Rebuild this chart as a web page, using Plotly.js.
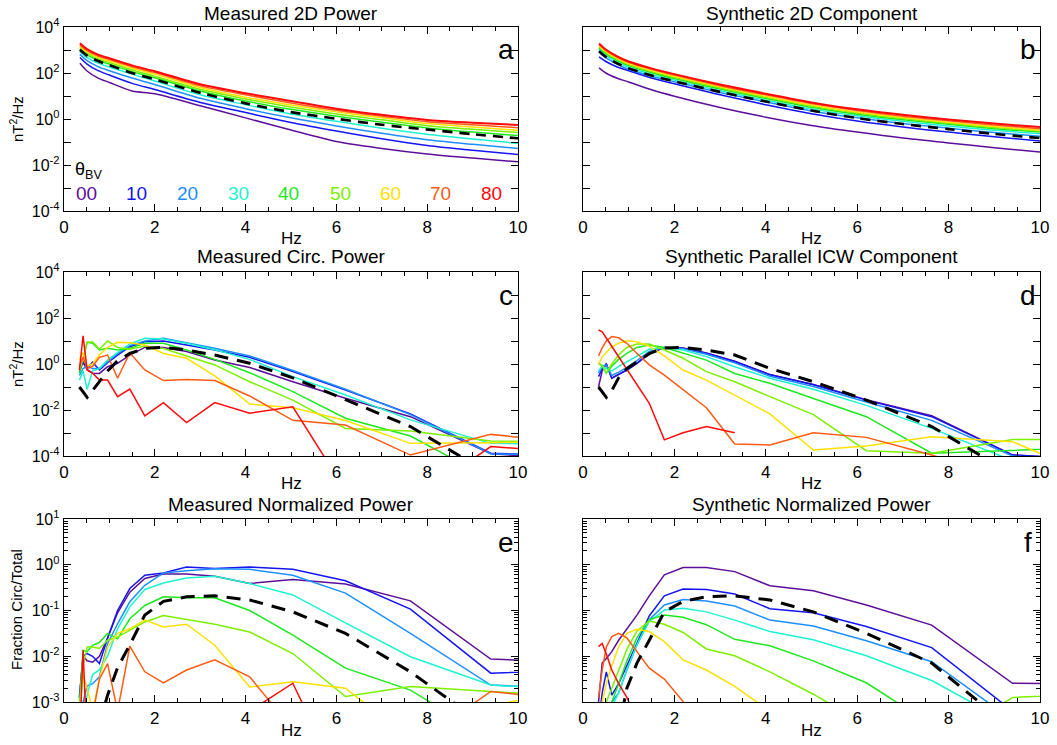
<!DOCTYPE html>
<html><head><meta charset="utf-8">
<script src="https://cdn.plot.ly/plotly-3.0.1.min.js"></script>
<style>html,body{margin:0;padding:0;background:#fff}#chart{width:1057px;height:745px}</style>
</head><body><div id="chart"></div>
<script>
// ---------- data (power values given as log10 exponents) ----------
const thetaLabels = ['00','10','20','30','40','50','60','70','80'];
const thetaColors = ['#5c0f99','#1515f0','#1e8fff','#1ef2d0','#1ee81e','#7df000','#ffe100','#ff5a14','#ff0a0a'];

const freqSmooth = [0.35,0.5,0.75,1,1.5,2,3,4,5,6,7,8,9,10];
const freqBins = [0.34,0.42,0.51,0.63,0.78,0.96,1.18,1.45,1.78,2.19,2.70,3.32,4.09,5.04,6.20,7.63,9.40,11.57];

// a: Measured 2D Power
const a00 = [2.42,2.10,1.78,1.59,1.22,1.10,0.58,0.05,-0.48,-0.98,-1.28,-1.52,-1.70,-1.86];
const a10 = [2.67,2.40,2.10,1.91,1.55,1.28,0.72,0.28,-0.15,-0.52,-0.86,-1.15,-1.36,-1.54];
const a20 = [2.81,2.55,2.28,2.10,1.78,1.50,0.90,0.45,0.05,-0.30,-0.62,-0.90,-1.10,-1.28];
const a30 = [2.93,2.68,2.43,2.26,1.95,1.65,1.05,0.62,0.22,-0.10,-0.40,-0.66,-0.87,-1.06];
const a40 = [3.04,2.80,2.55,2.38,2.06,1.79,1.22,0.78,0.42,0.12,-0.14,-0.39,-0.57,-0.72];
const a50 = [3.12,2.87,2.62,2.45,2.13,1.86,1.29,0.87,0.52,0.22,-0.03,-0.29,-0.45,-0.59];
const a60 = [3.17,2.93,2.68,2.52,2.21,1.95,1.37,0.95,0.61,0.31,0.05,-0.20,-0.35,-0.49];
const a70 = [3.22,2.98,2.74,2.58,2.27,2.02,1.44,1.05,0.70,0.38,0.12,-0.12,-0.25,-0.38];
const a80 = [3.29,3.05,2.80,2.64,2.33,2.08,1.51,1.12,0.78,0.45,0.18,-0.04,-0.16,-0.26];
const aAll = [3.01,2.77,2.52,2.34,2.00,1.72,1.14,0.68,0.30,0.01,-0.25,-0.46,-0.66,-0.84];

// b: Synthetic 2D Component
const b00 = [2.22,2.00,1.77,1.61,1.27,0.99,0.50,0.08,-0.28,-0.57,-0.83,-1.04,-1.25,-1.43];
const b10 = [2.70,2.50,2.26,2.10,1.78,1.53,1.05,0.62,0.23,-0.09,-0.35,-0.57,-0.77,-0.96];
const b20 = [2.91,2.67,2.38,2.16,1.86,1.62,1.15,0.74,0.35,0.05,-0.20,-0.40,-0.59,-0.75];
const b30 = [3.03,2.77,2.47,2.25,1.94,1.69,1.23,0.82,0.44,0.14,-0.10,-0.30,-0.49,-0.64];
const b40 = [3.10,2.84,2.54,2.32,2.01,1.76,1.30,0.89,0.51,0.21,-0.03,-0.23,-0.42,-0.57];
const b50 = [3.15,2.89,2.59,2.37,2.06,1.81,1.35,0.94,0.56,0.26,0.02,-0.18,-0.37,-0.52];
const b60 = [3.19,2.93,2.63,2.41,2.11,1.86,1.40,0.99,0.61,0.30,0.06,-0.14,-0.33,-0.49];
const b70 = [3.24,2.98,2.68,2.46,2.16,1.91,1.45,1.05,0.67,0.37,0.12,-0.08,-0.26,-0.42];
const b80 = [3.28,3.02,2.72,2.50,2.20,1.95,1.50,1.10,0.72,0.42,0.18,-0.02,-0.20,-0.35];
const bAll = [2.95,2.70,2.42,2.20,1.89,1.64,1.18,0.76,0.37,0.04,-0.22,-0.44,-0.65,-0.83];

// c: Measured Circ. Power
const c00 = [-0.35,0.10,-0.25,-0.40,-0.41,-0.12,0.03,0.39,0.72,0.72,0.54,0.17,-0.15,-0.77,-1.49,-2.29,-3.90,-4.20];
const c10 = [-0.15,0.05,-0.20,0.08,-0.26,0.06,0.39,0.75,0.97,1.00,0.83,0.61,0.29,-0.33,-1.13,-2.17,-3.88,-4.00];
const c20 = [-0.50,-0.20,-0.10,-0.20,-0.20,0.10,0.45,0.80,1.00,1.12,0.93,0.68,0.35,-0.28,-1.10,-2.20,-3.90,-4.00];
const c30 = [-0.70,-0.30,-1.10,-0.30,-0.20,0.17,0.50,0.87,1.12,1.09,0.90,0.62,0.20,-0.55,-1.35,-2.43,-3.45,-3.50];
const c40 = [-0.40,0.30,0.95,0.90,0.61,0.68,0.61,0.68,0.90,0.90,0.61,0.20,-0.38,-1.20,-2.36,-3.13,-5.00,-5.00];
const c50 = [-0.20,0.20,0.93,0.97,0.64,1.00,0.72,0.64,0.78,0.67,0.35,-0.04,-0.77,-1.57,-2.80,-2.91,-3.35,-3.40];
const c60 = [0.20,0.50,-0.10,0.00,0.40,0.72,0.94,0.92,0.83,0.46,0.25,-0.52,-1.74,-1.90,-2.46,-3.45,-3.42,-3.35];
const c70 = [-0.10,0.30,-0.20,-0.10,0.29,0.39,-0.62,0.49,-0.26,-0.72,-0.67,-0.72,-1.39,-2.45,-2.65,-3.96,-3.06,-3.50];
const c80 = [-0.26,1.22,-0.26,-0.40,-0.70,-0.70,-1.42,-1.09,-2.26,-1.68,-2.55,-1.68,-2.14,-1.86,-5.50,-6.00,-3.59,-3.90];
const cAll = [-1.00,-1.20,-1.45,-1.15,-0.75,-0.30,0.14,0.46,0.68,0.72,0.61,0.39,0.03,-0.60,-1.55,-2.72,-4.80,-5.50];

// d: Synthetic Parallel ICW Component
const d00 = [-0.99,-0.30,0.00,-0.62,-0.45,-0.26,0.03,0.46,0.72,0.70,0.48,0.12,-0.46,-0.89,-1.55,-2.25,-3.95,-4.20];
const d10 = [-0.55,-0.20,0.00,-0.62,-0.45,-0.26,0.03,0.46,0.72,0.69,0.47,0.11,-0.47,-0.90,-1.57,-2.29,-3.96,-4.20];
const d20 = [-0.40,-0.10,-0.05,-0.50,-0.35,-0.15,0.15,0.55,0.72,0.66,0.42,0.05,-0.53,-0.98,-1.65,-2.45,-4.00,-4.30];
const d30 = [-0.30,-0.10,-0.20,-0.30,-0.10,0.10,0.35,0.64,0.72,0.61,0.32,-0.12,-0.62,-1.10,-1.80,-2.80,-4.20,-4.50];
const d40 = [0.05,-0.10,-0.40,-0.10,0.20,0.46,0.72,0.83,0.72,0.46,0.17,-0.41,-0.84,-1.50,-2.29,-3.88,-3.77,-3.60];
const d50 = [0.00,-0.05,-0.40,0.00,0.40,0.72,0.87,0.87,0.61,0.25,-0.33,-0.77,-1.42,-2.20,-3.77,-3.88,-3.28,-3.30];
const d60 = [0.00,0.30,0.50,0.75,0.90,1.01,0.97,0.78,0.35,-0.26,-0.70,-1.35,-2.17,-3.74,-3.57,-3.16,-3.38,-5.20];
const d70 = [0.35,0.70,1.00,1.19,1.14,0.90,0.46,-0.04,-0.48,-1.10,-1.90,-3.48,-3.52,-2.99,-3.19,-3.96,-5.00,-5.00];
const d80 = [1.48,1.40,1.13,0.77,0.29,-0.26,-0.94,-1.71,-3.30,-2.99,-2.72,-2.99,null,null,null,null,null,null];
const dAll = [-1.00,-1.20,-1.45,-1.15,-0.60,-0.20,0.10,0.45,0.70,0.72,0.61,0.39,-0.19,-0.77,-1.57,-2.72,-4.80,-5.50];

// e: Measured Normalized Power (fraction circ/total)
const e00 = [-2.90,-2.00,-2.10,-2.13,-2.00,-1.60,-1.05,-0.60,-0.30,-0.20,-0.20,-0.25,-0.41,-0.32,-0.42,-0.79,-2.06,-2.15];
const e10 = [-2.90,-2.00,-1.94,-2.00,-2.16,-1.60,-1.00,-0.52,-0.23,-0.18,-0.05,-0.08,-0.05,-0.10,-0.35,-0.97,-2.37,-2.30];
const e20 = [-3.20,-3.00,-2.65,-2.60,-2.45,-1.72,-1.29,-0.81,-0.45,-0.18,-0.13,-0.09,-0.10,-0.23,-0.62,-1.50,-2.63,-2.72];
const e30 = [-3.50,-3.20,-2.80,-2.40,-2.30,-2.00,-1.40,-0.92,-0.54,-0.40,-0.29,-0.25,-0.41,-0.66,-1.27,-2.01,-2.63,-2.75];
const e40 = [-3.00,-1.87,-1.90,-1.76,-1.70,-1.50,-1.62,-1.18,-0.89,-0.70,-0.72,-0.72,-1.00,-1.54,-2.26,-2.74,-3.80,-4.00];
const e50 = [-3.20,-2.20,-1.80,-1.80,-1.83,-1.65,-1.58,-1.43,-1.25,-1.11,-1.20,-1.30,-1.47,-1.94,-2.88,-2.66,-2.77,-2.90];
const e60 = [-3.20,-2.40,-2.70,-3.20,-2.50,-1.80,-1.50,-1.40,-1.21,-1.36,-1.30,-1.76,-2.67,-2.56,-2.70,-3.80,-3.10,-2.60];
const e70 = [-3.50,-3.30,-3.30,-3.30,-2.50,-2.16,-3.20,-1.78,-2.34,-2.58,-2.30,-2.08,-2.45,-3.60,-4.00,-4.00,-2.77,-3.00];
const e80 = [-4.00,-1.87,-4.00,-4.00,-4.00,-4.00,-4.00,-4.00,-4.50,-4.50,-4.50,-4.50,-3.20,-2.59,-5.00,-5.00,-4.00,-4.00];
const eAll = [null,null,null,-4.00,-3.50,-2.85,-2.25,-1.75,-1.10,-0.80,-0.70,-0.68,-0.77,-1.03,-1.50,-2.34,-3.60,-4.50];

// f: Synthetic Normalized Power
const f00 = [-3.00,-2.15,-2.05,-1.90,-1.65,-1.40,-1.10,-0.68,-0.22,-0.06,-0.06,-0.15,-0.46,-0.57,-0.88,-1.32,-2.59,-2.61];
const f10 = [-3.50,-2.80,-2.34,-2.85,-2.60,-2.20,-1.70,-1.12,-0.68,-0.53,-0.54,-0.64,-0.96,-1.05,-1.35,-1.81,-3.20,-3.80];
const f20 = [-4.00,-3.60,-3.20,-3.00,-2.80,-2.30,-1.75,-1.20,-0.88,-0.76,-0.79,-0.90,-1.21,-1.34,-1.66,-2.12,-3.40,-4.00];
const f30 = [-4.00,-3.80,-3.50,-3.10,-2.80,-2.30,-1.75,-1.24,-0.99,-0.95,-1.03,-1.21,-1.46,-1.64,-1.99,-2.53,-3.50,-4.00];
const f40 = [-4.00,-3.80,-3.40,-3.00,-2.60,-2.10,-1.60,-1.20,-1.10,-1.15,-1.31,-1.63,-1.77,-2.10,-2.58,-3.50,-4.00,-4.00];
const f50 = [-4.00,-3.50,-3.00,-2.70,-2.30,-1.85,-1.45,-1.23,-1.30,-1.48,-1.84,-1.99,-2.34,-2.83,-3.50,-4.00,-2.90,-2.80];
const f60 = [-3.50,-3.00,-2.60,-2.20,-1.80,-1.50,-1.41,-1.46,-1.68,-2.08,-2.30,-2.66,-3.20,-4.00,-4.50,null,null,null];
const f70 = [-2.90,-2.30,-1.80,-1.57,-1.50,-1.60,-1.90,-2.26,-2.50,-3.00,-3.60,null,null,null,null,null,null,null];
const f80 = [-1.79,-1.72,-1.95,-2.30,-2.60,-2.90,-3.40,-4.00,null,null,null,null,null,null,null,null,null,null];
const fAll = [null,null,null,-4.20,-3.60,-2.70,-2.15,-1.65,-1.03,-0.80,-0.70,-0.68,-0.77,-1.03,-1.50,-2.15,-3.60,-4.50];

const panelTitles = ['Measured 2D Power','Synthetic 2D Component','Measured Circ. Power',
  'Synthetic Parallel ICW Component','Measured Normalized Power','Synthetic Normalized Power'];
const panelLetters = ['a','b','c','d','e','f'];

// ---------- layout geometry (pixels) ----------
const W = 1057, H = 745;
const colPx = [[64,518],[583,1040]];
const rowPx = [[27,211],[272,456],[519,702]];
const px = v => v / W;
const py = v => 1 - v / H;

const panels = [
  {x: freqSmooth, sets: [a00,a10,a20,a30,a40,a50,a60,a70,a80], all: aAll, shape: 'spline', dash: '10px,7px', dw: 2.6},
  {x: freqSmooth, sets: [b00,b10,b20,b30,b40,b50,b60,b70,b80], all: bAll, shape: 'spline', dash: '10px,7px', dw: 2.6},
  {x: freqBins, sets: [c00,c10,c20,c30,c40,c50,c60,c70,c80], all: cAll, shape: 'linear', dash: '14px,9px', dw: 3},
  {x: freqBins, sets: [d00,d10,d20,d30,d40,d50,d60,d70,d80], all: dAll, shape: 'linear', dash: '14px,9px', dw: 3},
  {x: freqBins, sets: [e00,e10,e20,e30,e40,e50,e60,e70,e80], all: eAll, shape: 'linear', dash: '14px,9px', dw: 3},
  {x: freqBins, sets: [f00,f10,f20,f30,f40,f50,f60,f70,f80], all: fAll, shape: 'linear', dash: '14px,9px', dw: 3}
];

const toPow = arr => arr.map(v => v === null ? null : Math.pow(10, v));
const FONT = 'Liberation Sans, Arial, Helvetica, sans-serif';

const traces = [];
const layout = {
  width: W, height: H, margin: {l:0, r:0, t:0, b:0},
  paper_bgcolor: '#fff', plot_bgcolor: '#fff', showlegend: false,
  font: {family: FONT, color: '#000', size: 16},
  annotations: []
};

const supTxt = e => '10<sup>' + e + '</sup>';

panels.forEach((p, i) => {
  const col = i % 2, row = Math.floor(i / 2);
  const n = i === 0 ? '' : String(i + 1);
  const xa = 'x' + n, ya = 'y' + n;
  p.sets.forEach((s, k) => {
    traces.push({x: p.x, y: toPow(s), xaxis: xa, yaxis: ya, mode: 'lines',
      line: {color: thetaColors[k], width: (i < 2 && k === 8) ? 2 : 1.5, shape: p.shape, smoothing: 0.8},
      hoverinfo: 'skip', connectgaps: false});
  });
  traces.push({x: p.x, y: toPow(p.all), xaxis: xa, yaxis: ya, mode: 'lines',
    line: {color: '#000', width: p.dw, dash: p.dash, shape: p.shape, smoothing: 0.8},
    hoverinfo: 'skip', connectgaps: false});

  layout['xaxis' + n] = {
    domain: [px(colPx[col][0]), px(colPx[col][1])], anchor: ya,
    range: [0, 10], tick0: 0, dtick: 2, ticks: 'inside', ticklen: 7, tickwidth: 1, tickcolor: '#000',
    minor: {dtick: 0.5, tick0: 0, ticks: 'inside', ticklen: 4, tickcolor: '#000', tickwidth: 1},
    showline: true, linecolor: '#000', linewidth: 1.3, mirror: 'ticks',
    showgrid: false, zeroline: false, tickfont: {size: 17, family: FONT, color: '#000'}
  };
  let yax;
  if (row < 2) {
    const exps = [-4,-2,0,2,4];
    const oddExps = [-3,-1,1,3];
    yax = {range: [-4, 4], tickvals: exps.map(e => Math.pow(10, e)), ticktext: exps.map(supTxt),
      minor: {tickmode: 'array', tickvals: oddExps.map(e => Math.pow(10, e)), ticks: 'inside', ticklen: 7, tickcolor: '#000', tickwidth: 1}};
  } else {
    const exps = [-3,-2,-1,0,1];
    const minors = [];
    [-3,-2,-1,0].forEach(e => [2,3,4,5,6,7,8,9].forEach(m => minors.push(m * Math.pow(10, e))));
    yax = {range: [-3, 1], tickvals: exps.map(e => Math.pow(10, e)), ticktext: exps.map(supTxt),
      minor: {tickmode: 'array', tickvals: minors, ticks: 'inside', ticklen: 4, tickcolor: '#000', tickwidth: 1}};
  }
  Object.assign(yax, {
    type: 'log', domain: [py(rowPx[row][1]), py(rowPx[row][0])], anchor: xa, tickmode: 'array',
    ticks: 'inside', ticklen: 7, tickwidth: 1, tickcolor: '#000',
    showline: true, linecolor: '#000', linewidth: 1.3, mirror: 'ticks',
    showgrid: false, zeroline: false, showticklabels: col === 0,
    tickfont: {size: 16, family: FONT, color: '#000'}
  });
  layout['yaxis' + n] = yax;

  const cx = (colPx[col][0] + colPx[col][1]) / 2;
  const titleY = [13, 256, 504][row];
  const hzY = [238, 483, 730][row];
  layout.annotations.push({text: panelTitles[i], xref: 'paper', yref: 'paper', x: px(cx), y: py(titleY),
    xanchor: 'center', yanchor: 'middle', showarrow: false, font: {size: 19, family: FONT, color: '#000'}});
  layout.annotations.push({text: 'Hz', xref: 'paper', yref: 'paper', x: px(cx), y: py(hzY),
    xanchor: 'center', yanchor: 'middle', showarrow: false, font: {size: 17, family: FONT, color: '#000'}});
  const letterX = col === 0 ? 506 : 1028;
  const letterY = [49, 296, 542][row];
  layout.annotations.push({text: panelLetters[i], xref: 'paper', yref: 'paper', x: px(letterX), y: py(letterY),
    xanchor: 'center', yanchor: 'middle', showarrow: false, font: {size: 28, family: FONT, color: '#000'}});
});

// y-axis titles
[['nT<sup>2</sup>/Hz', 119], ['nT<sup>2</sup>/Hz', 364], ['Fraction Circ/Total', 610]].forEach(([t, y]) => {
  layout.annotations.push({text: t, xref: 'paper', yref: 'paper', x: px(16), y: py(y), textangle: -90,
    xanchor: 'center', yanchor: 'middle', showarrow: false, font: {size: 15, family: FONT, color: '#000'}});
});

// theta legend inside panel a
layout.annotations.push({text: '\u03b8<sub>BV</sub>', xref: 'paper', yref: 'paper', x: px(73), y: py(171),
  xanchor: 'left', yanchor: 'middle', showarrow: false, font: {size: 18, family: FONT, color: '#000'}});
const legendX = [86, 136, 187, 238, 288, 340, 390, 440, 491];
thetaLabels.forEach((t, k) => {
  layout.annotations.push({text: t, xref: 'paper', yref: 'paper', x: px(legendX[k]), y: py(193),
    xanchor: 'center', yanchor: 'middle', showarrow: false, font: {size: 19, family: FONT, color: thetaColors[k]}});
});

Plotly.newPlot('chart', traces, layout, {staticPlot: true, displayModeBar: false});
</script></body></html>
